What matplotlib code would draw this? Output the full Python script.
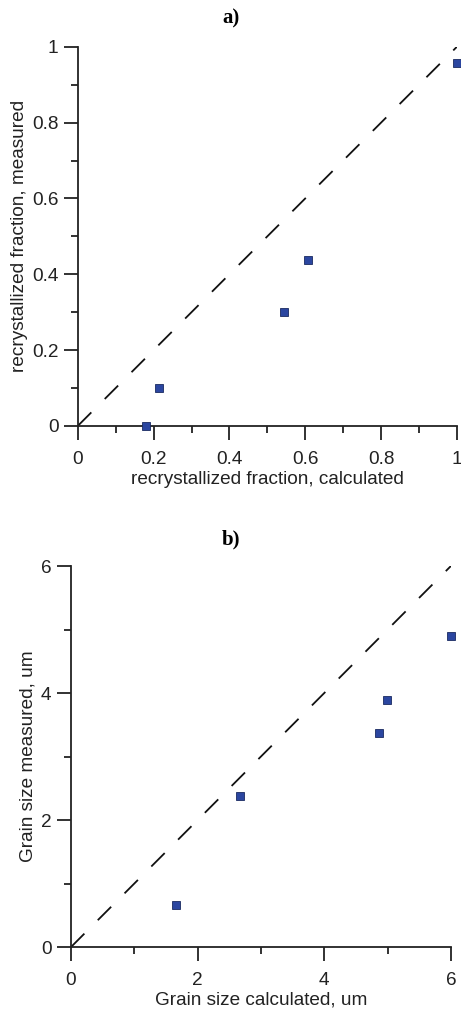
import matplotlib
matplotlib.use('Agg')
import matplotlib.pyplot as plt
from matplotlib.ticker import MultipleLocator, FuncFormatter

plt.rcParams['font.family'] = ['Liberation Sans', 'DejaVu Sans']

# panel a) recrystallized fraction
frac_calc = [0.18, 0.215, 0.545, 0.607, 1.0]
frac_meas = [0.0, 0.10, 0.30, 0.437, 0.957]

# panel b) grain size, um
grain_calc = [1.66, 2.67, 4.87, 4.99, 6.0]
grain_meas = [0.66, 2.38, 3.37, 3.89, 4.9]

fig = plt.figure(figsize=(4.61, 10.09), dpi=100)
ax1 = fig.add_axes([0.169, 0.578, 0.822, 0.3756])
ax2 = fig.add_axes([0.154, 0.0614, 0.824, 0.3776])

fmt = FuncFormatter(lambda v, p: '%g' % v)
marker_kw = dict(marker='s', linestyle='none', markersize=5.5,
                 markerfacecolor='#2b46a0', markeredgecolor='#1a2a60',
                 markeredgewidth=0.6, clip_on=False, zorder=5)
FS = 13.7


def style(ax, lim, major, minor):
    ax.set_xlim(0, lim)
    ax.set_ylim(0, lim)
    for s in ['top', 'right']:
        ax.spines[s].set_visible(False)
    for s in ['left', 'bottom']:
        ax.spines[s].set_linewidth(1.3)
        ax.spines[s].set_color('#222222')
    ax.xaxis.set_major_locator(MultipleLocator(major))
    ax.yaxis.set_major_locator(MultipleLocator(major))
    ax.xaxis.set_minor_locator(MultipleLocator(minor))
    ax.yaxis.set_minor_locator(MultipleLocator(minor))
    ax.xaxis.set_major_formatter(fmt)
    ax.yaxis.set_major_formatter(fmt)
    ax.tick_params(which='major', direction='out', length=10, width=1.3,
                   labelsize=FS, color='#222222', labelcolor='#222222')
    ax.tick_params(which='minor', direction='out', length=5, width=1.3,
                   color='#222222')
    ax.tick_params(axis='x', which='major', pad=8)
    ax.tick_params(axis='y', which='major', pad=4)


ax1.plot([0, 1], [0, 1], color='#111111', linestyle=(0, (10.5, 10.5)), linewidth=1.3)
ax1.plot(frac_calc, frac_meas, **marker_kw)
style(ax1, 1, 0.2, 0.1)
ax1.set_xlabel('recrystallized fraction, calculated', fontsize=FS, color='#222222', labelpad=2)
ax1.set_ylabel('recrystallized fraction, measured', fontsize=FS, color='#222222', labelpad=3)
fig.text(0.5, 0.982, 'a)', family='Liberation Serif', fontweight='bold', fontsize=15,
         ha='center', va='center')

ax2.plot([0, 6], [0, 6], color='#111111', linestyle=(0, (10.5, 10.5)), linewidth=1.3)
ax2.plot(grain_calc, grain_meas, **marker_kw)
style(ax2, 6, 2, 1)
ax2.set_xlabel('Grain size calculated, um', fontsize=FS, color='#222222', labelpad=2)
ax2.set_ylabel('Grain size measured, um', fontsize=FS, color='#222222', labelpad=3)
fig.text(0.5, 0.465, 'b)', family='Liberation Serif', fontweight='bold', fontsize=15,
         ha='center', va='center')

fig.savefig('out.png', dpi=100)
